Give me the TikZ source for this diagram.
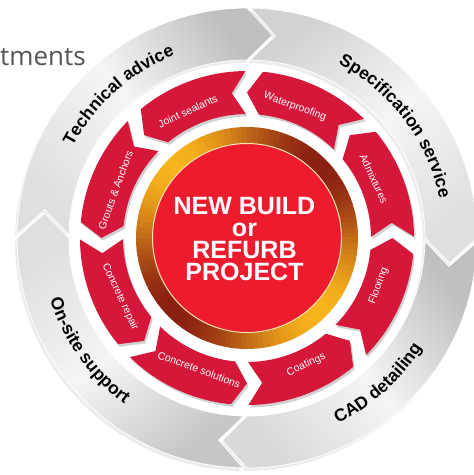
\documentclass[tikz,border=0pt]{standalone}
\usepackage{fontspec}
\setmainfont{Liberation Sans}
\setsansfont{Liberation Sans}
\newfontfamily\pagefont{Open Sans}
\usetikzlibrary{decorations.text, shadows}

\definecolor{segRed}{RGB}{213,24,58}
\definecolor{hubRed}{RGB}{236,28,46}
\definecolor{ringGold}{RGB}{248,180,28}
\definecolor{ringBrown}{RGB}{138,32,18}
\definecolor{pageGrey}{RGB}{85,85,85}

\tikzset{
  segment/.style={fill=segRed,
                  drop shadow={shadow xshift=1.5pt, shadow yshift=-2.5pt,
                               fill=black!45, opacity=.4}},
  ringpiece/.style={draw=white, line width=0.8pt,
                    drop shadow={shadow xshift=-2pt, shadow yshift=-3pt,
                                 fill=black!40, opacity=.18}},
  seglabel/.style={text=white, inner sep=0pt,
                   font=\fontsize{10.5}{12}\selectfont},
  hubtext/.style={text=white, align=center, inner sep=0pt,
                  font=\fontsize{25}{21.7}\selectfont\bfseries},
  fragment/.style={text=pageGrey, inner sep=0pt, anchor=base west,
                   font=\pagefont\fontsize{26}{30}\selectfont},
}
\newcommand\ringfont{\fontsize{17.5}{20}\selectfont\bfseries}

\begin{document}
\begin{tikzpicture}[x=1pt, y=1pt]

  \useasboundingbox (-247,-237) rectangle (227,238);
  \fill[white] (-247,-237) rectangle (227,238);

  \node[fragment] (frag) at (-247,173) {tments};

  % --- outer grey service ring ---
  \foreach \ba/\tail/\tip in {173/25/50, 83/35/25, -7/50/30, -97/45/25}{
    \pgfmathsetmacro\bb{\ba-90}
    \pgfmathsetmacro\md{\ba-45}
    \path[ringpiece, top color=gray!\tail, bottom color=gray!\tip,
          middle color=gray!8, shading angle=\md]
      (\ba+6:230pt) arc[start angle=\ba+6, end angle=\bb+7, radius=230pt]
      -- (\bb:204pt) -- (\bb+7:178pt)
      arc[start angle=\bb+7, end angle=\ba+6, radius=178pt]
      -- (\ba-1:204pt) -- cycle;
  }

  \path[decorate, decoration={text along path, text align=center,
        text={|\ringfont|Technical advice}}]
    (177:196.5pt) arc[start angle=177, end angle=87, radius=196.5pt];
  \path[decorate, decoration={text along path, text align=center,
        text={|\ringfont|Specification service}}]
    (82:196.5pt) arc[start angle=82, end angle=-8, radius=196.5pt];
  \path[decorate, decoration={text along path, text align=center,
        text={|\ringfont|CAD detailing}}]
    (-93:206.5pt) arc[start angle=-93, end angle=-3, radius=206.5pt];
  \path[decorate, decoration={text along path, text align=center,
        text={|\ringfont|On-site support}}]
    (-189.5:206.5pt) arc[start angle=-189.5, end angle=-99.5, radius=206.5pt];

  % --- red product segments ---
  \foreach \i in {0,...,7}{
    \pgfmathsetmacro\ta{90-45*\i}
    \pgfmathsetmacro\tb{\ta-45}
    \fill[segment]
      (\ta-5.5:167pt) arc[start angle=\ta-5.5, end angle=\tb+0.5, radius=167pt]
      -- (\tb+6:145.5pt) -- (\tb+0.5:124pt)
      arc[start angle=\tb+0.5, end angle=\ta-5.5, radius=124pt]
      -- (\ta:145.5pt) -- cycle;
  }

  \foreach \name [count=\i from 0] in {Waterproofing, Admixtures, Flooring,
      Coatings, Concrete solutions, Concrete repair, Grouts \& Anchors,
      Joint sealants}{
    \pgfmathsetmacro\md{67.5-45*\i+2.5}
    \pgfmathsetmacro\rot{sin(\md)>0 ? \md-90 : \md+90}
    \node[seglabel, rotate=\rot] (lab\i) at (\md:140pt) {\name};
  }

  % --- hub ---
  \foreach \a in {0,3,...,357}{
    \pgfmathsetmacro\mix{max(0,min(100,50+50*cos(2*(\a+1.5-135))))}
    \draw[line width=17pt, ringGold!\mix!ringBrown]
      (\a:102.5pt) arc[start angle=\a, end angle=\a+3.6, radius=102.5pt];
  }
  \fill[hubRed] (0,0) circle[radius=94.5pt];
  \draw[ringGold!35!white, line width=1pt] (0,0) circle[radius=94.5pt];

  \node[hubtext] (hub) at (-2.5,-1) {NEW BUILD\\or\\REFURB\\PROJECT};

\end{tikzpicture}
\end{document}
